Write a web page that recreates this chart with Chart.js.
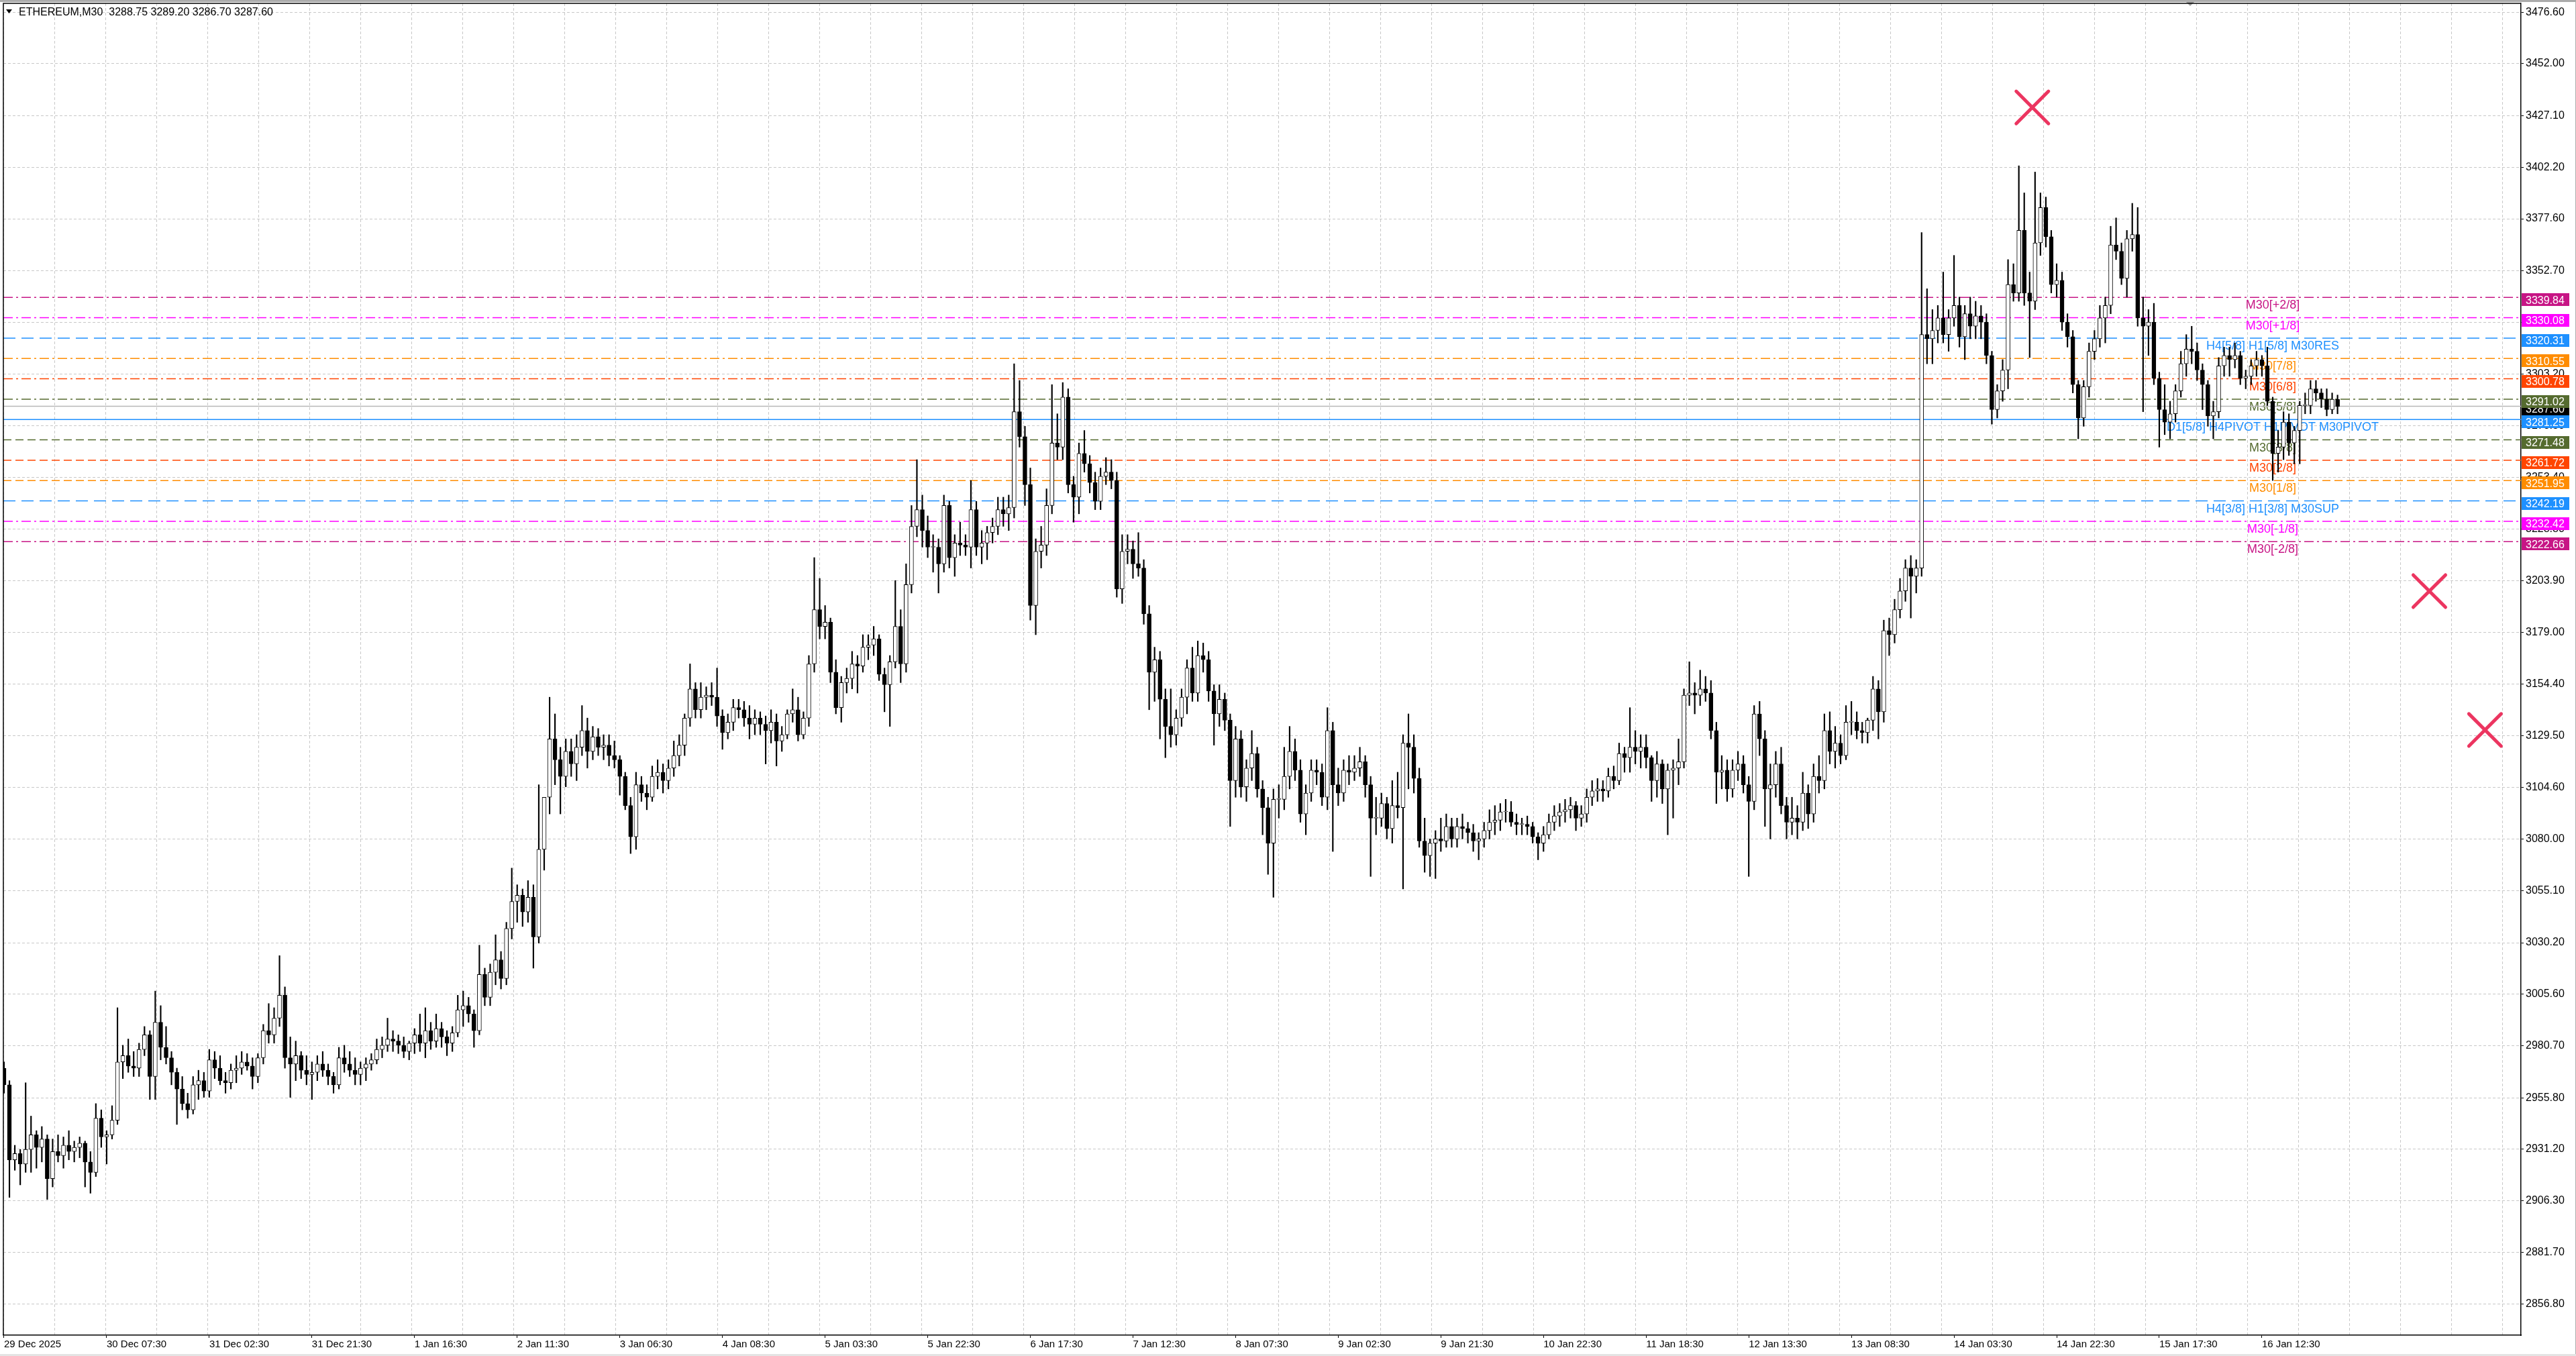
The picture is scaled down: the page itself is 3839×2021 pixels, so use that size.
<!DOCTYPE html>
<html>
<head>
<meta charset="utf-8">
<title>ETHEREUM,M30</title>
<script src="https://cdn.jsdelivr.net/npm/chart.js@4.4.1/dist/chart.umd.min.js"></script>
<style>
  html, body { margin: 0; padding: 0; background: #fff; overflow: hidden; }
  canvas { display: block; }
</style>
</head>
<body>
<canvas id="chart" width="3839" height="2021" style="width:3839px;height:2021px"></canvas>
<script>
// ETHEREUM M30 chart, candles (one candle per hour)
const headerText = 'ETHEREUM,M30  3288.75 3289.20 3286.70 3287.60';

const opens = [
  2970,2962,2926,2929,2924,2931,2938,2932,2936,2917,2930,2928,2933,2930,2932,2934,2925,2920,2946,2937,
  2938,2945,2973,2976,2971,2970,2979,2986,2966,2992,2980,2975,2968,2960,2953,2950,2962,2964,2959,2974,
  2970,2964,2963,2969,2970,2973,2971,2966,2975,2988,2986,2994,3005,2975,2972,2976,2969,2967,2968,2972,
  2969,2966,2962,2975,2972,2969,2967,2970,2972,2974,2979,2981,2984,2983,2981,2978,2982,2986,2982,2988,
  2983,2989,2985,2982,2987,2998,3000,2996,2988,3015,3004,3016,3022,3013,3037,3050,3053,3045,3052,3033,
  3075,3100,3128,3118,3110,3122,3116,3124,3132,3122,3129,3124,3125,3120,3118,3110,3096,3081,3106,3102,
  3100,3110,3112,3108,3114,3120,3125,3138,3152,3142,3148,3149,3148,3139,3131,3136,3143,3142,3138,3135,
  3138,3135,3132,3136,3127,3130,3140,3142,3130,3138,3164,3190,3182,3184,3160,3143,3155,3157,3164,3163,
  3172,3173,3176,3159,3154,3165,3182,3164,3202,3230,3238,3228,3220,3220,3212,3240,3215,3222,3221,3220,
  3238,3220,3222,3227,3230,3238,3236,3239,3285,3273,3250,3192,3218,3221,3240,3270,3268,3292,3250,3244,
  3265,3260,3251,3242,3254,3256,3252,3200,3218,3219,3212,3210,3188,3160,3166,3147,3134,3130,3138,3148,
  3162,3150,3168,3166,3151,3140,3147,3137,3108,3128,3105,3114,3121,3104,3095,3078,3099,3099,3110,3122,
  3113,3092,3102,3113,3112,3100,3132,3106,3102,3113,3112,3114,3117,3106,3090,3090,3097,3085,3096,3095,
  3126,3124,3109,3079,3072,3078,3080,3079,3086,3080,3086,3085,3083,3079,3080,3084,3088,3089,3093,3093,
  3088,3087,3087,3086,3081,3078,3082,3088,3091,3093,3094,3096,3090,3092,3100,3103,3104,3103,3110,3108,
  3121,3119,3124,3122,3124,3119,3108,3116,3104,3113,3114,3117,3149,3150,3149,3152,3150,3132,3112,3113,
  3104,3113,3116,3106,3098,3140,3128,3104,3106,3116,3096,3088,3090,3088,3102,3092,3110,3108,3132,3122,
  3126,3120,3136,3136,3132,3131,3137,3152,3141,3180,3178,3190,3199,3210,3206,3210,3322,3320,3324,3330,
  3322,3330,3336,3321,3332,3326,3331,3328,3312,3286,3295,3305,3346,3342,3372,3342,3338,3366,3383,3369,
  3346,3348,3328,3321,3298,3282,3297,3314,3320,3330,3336,3365,3362,3349,3368,3370,3330,3326,3328,3301,
  3286,3280,3284,3295,3308,3315,3314,3305,3298,3283,3285,3307,3312,3310,3312,3301,3302,3307,3310,3307,
  3290,3265,3268,3280,3270,3276,3288,3288,3296,3294,3291,3286,3291
];
const highs = [
  2973,2964,2933,2931,2963,2947,2940,2942,2938,2936,2938,2937,2940,2935,2937,2935,2930,2953,2950,2940,
  2952,2999,2981,2984,2978,2982,2990,2988,3007,3000,2990,2978,2970,2966,2958,2966,2969,2968,2979,2978,
  2976,2968,2972,2976,2978,2977,2975,2977,2991,3001,2999,3024,3009,2985,2983,2978,2976,2973,2976,2978,
  2972,2968,2980,2981,2978,2975,2973,2975,2977,2984,2985,2994,2988,2986,2985,2983,2989,2996,2999,2992,
  2996,2992,2988,2990,3005,3007,3004,2998,3029,3018,3020,3034,3026,3040,3066,3058,3056,3060,3058,3106,
  3095,3148,3140,3124,3128,3128,3130,3144,3138,3134,3133,3130,3130,3127,3120,3112,3100,3112,3110,3106,
  3115,3118,3116,3118,3127,3130,3140,3164,3155,3155,3153,3155,3162,3142,3140,3147,3147,3146,3144,3142,
  3141,3139,3142,3140,3134,3142,3152,3148,3141,3168,3215,3205,3192,3186,3166,3158,3162,3170,3168,3178,
  3178,3182,3178,3162,3168,3204,3190,3212,3240,3262,3245,3235,3226,3224,3245,3242,3226,3232,3226,3252,
  3242,3228,3230,3234,3244,3244,3245,3308,3300,3278,3258,3224,3230,3248,3298,3284,3299,3296,3254,3270,
  3276,3264,3256,3258,3263,3262,3256,3226,3226,3223,3227,3214,3192,3172,3170,3152,3152,3142,3152,3166,
  3172,3175,3174,3170,3154,3154,3150,3140,3134,3132,3118,3132,3124,3108,3100,3104,3106,3124,3134,3128,
  3118,3106,3118,3118,3116,3143,3136,3114,3118,3120,3120,3124,3120,3110,3100,3102,3100,3108,3112,3130,
  3140,3130,3114,3090,3080,3084,3090,3092,3090,3090,3092,3088,3087,3083,3088,3094,3096,3097,3099,3098,
  3092,3090,3091,3088,3083,3086,3092,3096,3097,3099,3100,3098,3096,3104,3108,3109,3108,3114,3115,3126,
  3124,3143,3132,3130,3130,3120,3122,3118,3116,3118,3128,3152,3165,3155,3161,3158,3156,3136,3120,3118,
  3118,3122,3120,3110,3144,3146,3132,3116,3122,3124,3100,3100,3096,3112,3106,3116,3120,3140,3141,3134,
  3130,3144,3146,3141,3136,3138,3158,3156,3185,3186,3195,3205,3214,3216,3214,3371,3344,3334,3336,3352,
  3334,3360,3340,3336,3340,3338,3336,3332,3314,3298,3310,3358,3356,3403,3390,3352,3400,3390,3388,3372,
  3356,3352,3332,3324,3300,3300,3318,3324,3336,3340,3374,3378,3366,3372,3385,3383,3340,3334,3337,3304,
  3298,3290,3298,3314,3322,3326,3318,3308,3300,3290,3311,3316,3316,3318,3314,3305,3310,3314,3312,3316,
  3292,3276,3285,3284,3278,3290,3294,3300,3300,3296,3296,3294,3293
];
const lows = [
  2958,2908,2921,2914,2920,2920,2922,2925,2907,2913,2925,2922,2926,2925,2927,2913,2910,2918,2932,2924,
  2936,2943,2965,2968,2966,2966,2976,2955,2955,2974,2972,2962,2943,2950,2946,2948,2955,2956,2956,2965,
  2962,2958,2960,2963,2967,2969,2960,2963,2972,2982,2982,2990,2970,2956,2964,2965,2962,2955,2964,2966,
  2962,2958,2960,2968,2966,2962,2962,2964,2969,2972,2975,2978,2978,2977,2975,2974,2977,2978,2975,2979,
  2980,2980,2976,2978,2985,2990,2992,2980,2986,3000,3000,3010,3008,3010,3032,3040,3038,3040,3018,3030,
  3065,3092,3106,3092,3105,3110,3108,3120,3114,3118,3120,3118,3115,3114,3101,3094,3073,3075,3098,3094,
  3098,3104,3102,3104,3110,3115,3120,3134,3138,3138,3142,3144,3134,3123,3128,3132,3138,3134,3128,3130,
  3130,3116,3126,3115,3122,3128,3136,3127,3128,3134,3160,3176,3176,3155,3140,3136,3150,3152,3150,3160,
  3166,3168,3156,3141,3134,3162,3155,3160,3198,3225,3220,3215,3208,3198,3208,3210,3206,3216,3216,3210,
  3216,3212,3214,3222,3226,3230,3228,3234,3268,3240,3185,3178,3210,3216,3236,3262,3262,3246,3232,3236,
  3256,3246,3238,3238,3250,3248,3196,3193,3212,3205,3206,3183,3142,3146,3128,3119,3124,3125,3134,3140,
  3146,3146,3160,3146,3125,3134,3132,3086,3100,3100,3098,3108,3100,3082,3063,3052,3090,3094,3104,3108,
  3088,3082,3098,3106,3096,3094,3074,3096,3098,3106,3108,3110,3100,3062,3082,3086,3080,3078,3090,3056,
  3104,3102,3076,3064,3062,3061,3074,3076,3076,3076,3080,3078,3074,3070,3076,3080,3082,3084,3088,3086,
  3082,3082,3082,3078,3070,3074,3080,3084,3086,3088,3090,3084,3086,3088,3096,3098,3098,3100,3104,3106,
  3112,3112,3116,3114,3114,3098,3100,3097,3082,3090,3106,3114,3144,3140,3144,3146,3128,3097,3104,3098,
  3100,3108,3102,3062,3094,3120,3086,3080,3100,3092,3080,3082,3080,3084,3085,3088,3102,3104,3116,3114,
  3116,3118,3130,3128,3126,3126,3132,3128,3136,3168,3174,3186,3194,3186,3198,3206,3308,3308,3318,3318,
  3314,3326,3316,3310,3320,3320,3320,3308,3279,3282,3290,3296,3338,3338,3336,3311,3334,3360,3364,3342,
  3340,3324,3316,3294,3272,3278,3292,3310,3316,3318,3332,3358,3346,3340,3362,3326,3285,3312,3298,3268,
  3274,3272,3280,3292,3302,3308,3300,3286,3278,3272,3282,3302,3302,3306,3298,3296,3298,3302,3302,3288,
  3252,3256,3262,3264,3260,3260,3284,3284,3290,3287,3283,3284,3284
];
const closes = [
  2962,2926,2929,2924,2931,2938,2932,2936,2917,2930,2928,2933,2930,2932,2934,2925,2920,2946,2937,2938,
  2945,2973,2976,2971,2970,2979,2986,2966,2992,2980,2975,2968,2960,2953,2950,2962,2964,2959,2974,2970,
  2964,2963,2969,2970,2973,2971,2966,2975,2988,2986,2994,3005,2975,2972,2976,2969,2967,2968,2972,2969,
  2966,2962,2975,2972,2969,2967,2970,2972,2974,2979,2981,2984,2983,2981,2978,2982,2986,2982,2988,2983,
  2989,2985,2982,2987,2998,3000,2996,2988,3015,3004,3016,3022,3013,3037,3050,3053,3045,3052,3033,3075,
  3100,3128,3118,3110,3122,3116,3124,3132,3122,3129,3124,3125,3120,3118,3110,3096,3081,3106,3102,3100,
  3110,3112,3108,3114,3120,3125,3138,3152,3142,3148,3149,3148,3139,3131,3136,3143,3142,3138,3135,3138,
  3135,3132,3136,3127,3130,3140,3142,3130,3138,3164,3190,3182,3184,3160,3143,3155,3157,3164,3163,3172,
  3173,3176,3159,3154,3165,3182,3164,3202,3230,3238,3228,3220,3220,3212,3240,3215,3222,3221,3220,3238,
  3220,3222,3227,3230,3238,3236,3239,3285,3273,3250,3192,3218,3221,3240,3270,3268,3292,3250,3244,3265,
  3260,3251,3242,3254,3256,3252,3200,3218,3219,3212,3210,3188,3160,3166,3147,3134,3130,3138,3148,3162,
  3150,3168,3166,3151,3140,3147,3137,3108,3128,3105,3114,3121,3104,3095,3078,3099,3099,3110,3122,3113,
  3092,3102,3113,3112,3100,3132,3106,3102,3113,3112,3114,3117,3106,3090,3090,3097,3085,3096,3095,3126,
  3124,3109,3079,3072,3078,3080,3079,3086,3080,3086,3085,3083,3079,3080,3084,3088,3089,3093,3093,3088,
  3087,3087,3086,3081,3078,3082,3088,3091,3093,3094,3096,3090,3092,3100,3103,3104,3103,3110,3108,3121,
  3119,3124,3122,3124,3119,3108,3116,3104,3113,3114,3117,3149,3150,3149,3152,3150,3132,3112,3113,3104,
  3113,3116,3106,3098,3140,3128,3104,3106,3116,3096,3088,3090,3088,3102,3092,3110,3108,3132,3122,3126,
  3120,3136,3136,3132,3131,3137,3152,3141,3180,3178,3190,3199,3210,3206,3210,3322,3320,3324,3330,3322,
  3330,3336,3321,3332,3326,3331,3328,3312,3286,3295,3305,3346,3342,3372,3342,3338,3366,3383,3369,3346,
  3348,3328,3321,3298,3282,3297,3314,3320,3330,3336,3365,3362,3349,3368,3370,3330,3326,3328,3301,3286,
  3280,3284,3295,3308,3315,3314,3305,3298,3283,3285,3307,3312,3310,3312,3301,3302,3307,3310,3307,3290,
  3265,3268,3280,3270,3276,3288,3288,3296,3294,3291,3286,3291,3287.6
];

// time axis: candle index of each date label
const xTickIndex = [0,19,38,57,76,95,114,133,152,171,190,209,228,247,266,285,304,323,342,361,380,399,418];
const xTickLabels = [
  '29 Dec 2025','30 Dec 07:30','31 Dec 02:30','31 Dec 21:30','1 Jan 16:30','2 Jan 11:30',
  '3 Jan 06:30','4 Jan 08:30','5 Jan 03:30','5 Jan 22:30','6 Jan 17:30','7 Jan 12:30',
  '8 Jan 07:30','9 Jan 02:30','9 Jan 21:30','10 Jan 22:30','11 Jan 18:30','12 Jan 13:30',
  '13 Jan 08:30','14 Jan 03:30','14 Jan 22:30','15 Jan 17:30','16 Jan 12:30'
];
const yTickValues = [
  3476.60,3452.00,3427.10,3402.20,3377.60,3352.70,3327.80,3303.20,3278.30,3253.40,3228.80,3203.90,3179.00,
  3154.40,3129.50,3104.60,3080.00,3055.10,3030.20,3005.60,2980.70,2955.80,2931.20,2906.30,2881.70,2856.80
];

// Murrey / pivot levels
const levelValues = [3339.84,3330.08,3320.31,3310.55,3300.78,3291.02,3281.25,3271.48,3261.72,3251.95,3242.19,3232.42,3222.66];
const levelNames = [
  'M30[+2/8]','M30[+1/8]','H4[5/8] H1[5/8] M30RES','M30[7/8]','M30[6/8]','M30[5/8]',
  'D1[5/8] H4PIVOT H1PIVOT M30PIVOT','M30[3/8]','M30[2/8]','M30[1/8]','H4[3/8] H1[3/8] M30SUP',
  'M30[-1/8]','M30[-2/8]'
];
const bidPrice = 3287.60;

// cross markers (candle index, price)
const markerX = [375.5, 449.0, 459.3];
const markerY = [3431.0, 3198.9, 3132.3];

// ---- styles ----
const FONT = '"Liberation Sans", Arial, sans-serif';
const GRID_COLOR = '#C8C8C8';
const X_MIN = -0.124, X_MAX = 465.96;
const Y_MIN = 2841.87, Y_MAX = 3480.95;
const GRID_START = -0.04, GRID_STEP = 9.44;
const LEVEL_LABEL_AT = 420;
const DASHDOT = [14, 5, 3, 5], DASH = [12, 6], LONGDASH = [18, 9], SOLID = [];
const levelColors = ['#C71585','#FF00FF','#1E90FF','#FF8C00','#FF4500','#556B2F','#1E90FF','#556B2F','#FF4500','#FF8C00','#1E90FF','#FF00FF','#C71585'];
const levelDash = [DASHDOT,DASHDOT,LONGDASH,DASHDOT,DASHDOT,DASHDOT,SOLID,DASH,DASH,DASH,LONGDASH,DASHDOT,DASHDOT];

const labelAt = new Map(xTickIndex.map((j, k) => [j, xTickLabels[k]]));
const xTickValues = [];
for (let n = 0; GRID_START + GRID_STEP * n <= X_MAX; n++) xTickValues.push(GRID_START + GRID_STEP * n);
xTickIndex.forEach(j => xTickValues.push(j));
xTickValues.sort((a, b) => a - b);
const isLabelTick = c => !!(c.tick && labelAt.has(c.tick.value));

const bodyData = opens.map((o, i) => ({ x: i, y: [o, closes[i]] }));
const wickData = opens.map((o, i) => ({ x: i, y: [lows[i], highs[i]] }));
const bodyFill = opens.map((o, i) => closes[i] >= o ? '#FFFFFF' : '#000000');

const levelSets = levelValues.map((v, i) => ({
  type: 'line',
  data: [{ x: X_MIN, y: v }, { x: X_MAX, y: v }],
  borderColor: levelColors[i],
  borderWidth: 1.5,
  borderDash: levelDash[i],
  pointRadius: 0,
  order: 4
}));

const decor = {
  id: 'decor',
  beforeDraw(chart) {
    const ctx = chart.ctx;
    ctx.save();
    ctx.fillStyle = '#FFFFFF';
    ctx.fillRect(0, 0, chart.width, chart.height);
    ctx.restore();
  },
  beforeDatasetsDraw(chart) {
    const ctx = chart.ctx, xs = chart.scales.x, ys = chart.scales.y;
    ctx.save();
    ctx.font = '18px ' + FONT;
    ctx.textAlign = 'center';
    ctx.textBaseline = 'alphabetic';
    const lx = xs.getPixelForValue(LEVEL_LABEL_AT);
    levelValues.forEach((v, i) => {
      ctx.fillStyle = levelColors[i];
      ctx.fillText(levelNames[i], lx, ys.getPixelForValue(v) + 17);
    });
    ctx.restore();
  },
  beforeDatasetDraw(chart, args) {
    if (args.meta.type === 'scatter') { chart.ctx.save(); chart.ctx.lineCap = 'round'; }
  },
  afterDatasetDraw(chart, args) {
    if (args.meta.type === 'scatter') chart.ctx.restore();
  },
  afterDraw(chart) {
    const ctx = chart.ctx, ys = chart.scales.y, a = chart.chartArea;
    ctx.save();
    // window edges
    ctx.fillStyle = '#ABABAB';
    ctx.fillRect(0, 0, chart.width, 3);
    ctx.fillRect(chart.width - 1, 0, 1, chart.height);
    ctx.fillStyle = '#E4E4E4';
    ctx.fillRect(0, chart.height - 3, chart.width, 3);
    ctx.fillStyle = '#A0A0A0';
    ctx.beginPath();
    ctx.moveTo(3258, 3); ctx.lineTo(3270, 3); ctx.lineTo(3264, 9); ctx.closePath(); ctx.fill();
    // frame top / left
    ctx.strokeStyle = '#000';
    ctx.lineWidth = 1.5;
    ctx.beginPath();
    ctx.moveTo(a.left, a.bottom); ctx.lineTo(a.left, a.top); ctx.lineTo(a.right, a.top);
    ctx.stroke();
    // header
    ctx.fillStyle = '#000';
    ctx.beginPath();
    ctx.moveTo(9, 14); ctx.lineTo(18, 14); ctx.lineTo(13.5, 20); ctx.closePath(); ctx.fill();
    ctx.font = '16px ' + FONT;
    ctx.textAlign = 'left';
    ctx.textBaseline = 'alphabetic';
    ctx.fillText(headerText, 28, 23);
    // price boxes on the right axis
    const box = (v, color) => {
      const y = ys.getPixelForValue(v);
      ctx.fillStyle = color;
      ctx.fillRect(a.right + 1, Math.round(y) - 6, 71, 19);
      ctx.fillStyle = '#FFFFFF';
      ctx.fillText(v.toFixed(2), a.right + 7, y + 9.5);
    };
    box(bidPrice, '#000000');
    levelValues.forEach((v, i) => box(v, levelColors[i]));
    ctx.restore();
  }
};

new Chart(document.getElementById('chart'), {
  type: 'bar',
  data: {
    datasets: [
      {
        label: 'body', data: bodyData, backgroundColor: bodyFill, borderColor: '#000000',
        borderWidth: 1, borderSkipped: false, barThickness: 6, grouped: false, minBarLength: 1, order: 1
      },
      {
        label: 'wick', data: wickData, backgroundColor: '#000000', borderWidth: 0,
        barThickness: 1.5, grouped: false, order: 2
      },
      {
        type: 'line', label: 'bid', data: [{ x: X_MIN, y: bidPrice }, { x: X_MAX, y: bidPrice }],
        borderColor: '#B8B8B8', borderWidth: 1.5, pointRadius: 0, order: 5
      },
      ...levelSets,
      {
        type: 'scatter', label: 'marks',
        data: markerX.map((x, i) => ({ x, y: markerY[i] })),
        pointStyle: 'crossRot', pointRadius: 34, pointBorderWidth: 5,
        pointBorderColor: '#EC3560', pointBackgroundColor: '#EC3560', showLine: false, order: 0
      }
    ]
  },
  options: {
    responsive: false,
    animation: false,
    devicePixelRatio: 1,
    events: [],
    layout: { autoPadding: false, padding: { left: 5, top: 5, right: 0, bottom: 0 } },
    plugins: { legend: { display: false }, tooltip: { enabled: false }, title: { display: false } },
    scales: {
      x: {
        type: 'linear', position: 'bottom', min: X_MIN, max: X_MAX, offset: false,
        afterBuildTicks: s => { s.ticks = xTickValues.map(v => ({ value: v })); },
        afterFit: s => { s.height = 31; s.paddingLeft = 0; s.paddingRight = 0; },
        grid: {
          offset: false, lineWidth: 1, drawTicks: true, tickLength: 4, tickWidth: 1,
          color: c => isLabelTick(c) ? 'rgba(0,0,0,0)' : GRID_COLOR,
          tickColor: c => isLabelTick(c) ? '#000000' : 'rgba(0,0,0,0)'
        },
        border: { display: true, color: '#000000', width: 1.5, dash: [4, 3] },
        ticks: {
          autoSkip: false, maxRotation: 0, minRotation: 0, align: 'start', padding: 1,
          color: '#000000', font: { family: FONT, size: 15 },
          callback: v => labelAt.get(v) || ''
        }
      },
      y: {
        type: 'linear', position: 'right', min: Y_MIN, max: Y_MAX,
        afterBuildTicks: s => { s.ticks = yTickValues.map(v => ({ value: v })); },
        afterFit: s => { s.width = 82; s.paddingTop = 0; s.paddingBottom = 0; },
        grid: { color: GRID_COLOR, lineWidth: 1, drawTicks: true, tickLength: 4, tickWidth: 1, tickColor: '#000000' },
        border: { display: true, color: '#000000', width: 1.5, dash: [4, 3] },
        ticks: {
          autoSkip: false, padding: 3, color: '#000000', font: { family: FONT, size: 16 },
          callback: v => v.toFixed(2)
        }
      }
    }
  },
  plugins: [decor]
});
</script>
</body>
</html>
